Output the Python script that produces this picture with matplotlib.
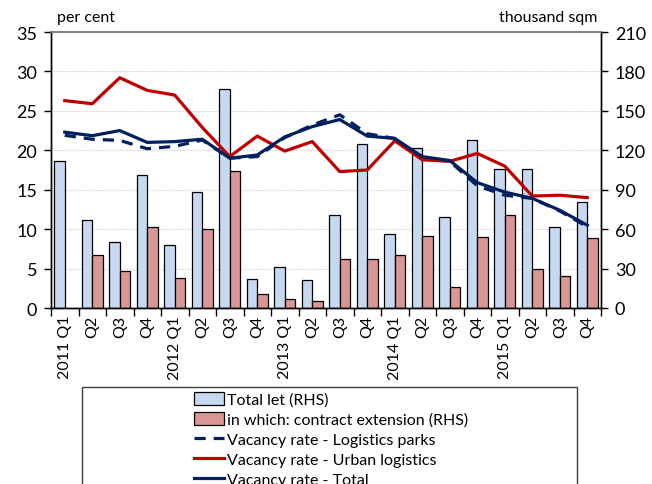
import numpy as np
import matplotlib
matplotlib.use("Agg")
import matplotlib.pyplot as plt
from matplotlib.patches import Rectangle, Patch
from matplotlib.lines import Line2D

plt.rcParams['font.family'] = ['Lato', 'DejaVu Sans']

quarters = ["2011 Q1", "Q2", "Q3", "Q4", "2012 Q1", "Q2", "Q3", "Q4",
            "2013 Q1", "Q2", "Q3", "Q4", "2014 Q1", "Q2", "Q3", "Q4",
            "2015 Q1", "Q2", "Q3", "Q4"]

# thousand sqm (RHS)
total_let = [112, 67, 50, 101, 48, 88, 167, 22, 31, 21,
             71, 125, 56, 122, 69, 128, 106, 106, 62, 81]
extension = [np.nan, 40, 28, 62, 23, 60, 104, 11, 7, 5,
             37, 37, 40, 55, 16, 54, 71, 30, 24, 53]

# per cent (LHS)
vac_parks = [21.9, 21.4, 21.25, 20.2, 20.5, 21.3, 19.0, 19.2, 21.6, 23.2,
             24.5, 22.1, 21.5, 19.0, 18.6, 15.5, 14.3, 13.9, 12.3, 10.3]
vac_urban = [26.3, 25.9, 29.2, 27.6, 27.0, 22.9, 19.2, 21.8, 19.9, 21.1,
             17.3, 17.5, 21.2, 18.8, 18.6, 19.6, 18.0, 14.2, 14.3, 14.0]
vac_total = [22.3, 21.85, 22.5, 21.0, 21.1, 21.4, 19.0, 19.4, 21.7, 23.0,
             23.9, 21.8, 21.5, 19.2, 18.7, 15.9, 14.7, 13.9, 12.4, 10.5]

blue_fill = "#C6D9F1"
red_fill = "#D99694"
red_line = "#C00000"
navy = "#002060"
dash = (0, (3.5, 2.5))

W, H = 652, 485
fig = plt.figure(figsize=(W / 100, H / 100), dpi=100)
ax = fig.add_axes([51 / W, 1 - 309 / H, 550 / W, 276 / H])  # bars, RHS
axl = ax.twinx()  # lines, LHS

x = np.arange(len(quarters))
bw = 0.375
ax.bar(x - bw / 2, total_let, bw, color=blue_fill, edgecolor="black", linewidth=0.9, zorder=2)
ax.bar(x + bw / 2, extension, bw, color=red_fill, edgecolor="black", linewidth=0.9, zorder=2)
ax.set_ylim(0, 210)
ax.set_yticks(np.arange(0, 211, 30))
ax.set_xlim(-0.5, len(quarters) - 0.5)
ax.yaxis.tick_right()
ax.grid(axis="y", color="#D0D0D0", linestyle=(0, (1, 1)), linewidth=0.8, zorder=0)
ax.set_axisbelow(True)

axl.plot(x, vac_parks, color=navy, lw=2.3, ls=dash)
axl.plot(x, vac_urban, color=red_line, lw=2.3)
axl.plot(x, vac_total, color=navy, lw=2.3)
axl.set_ylim(0, 35)
axl.set_yticks(np.arange(0, 36, 5))
axl.yaxis.tick_left()

ax.set_xticks(np.arange(-0.5, len(quarters), 1))
ax.set_xticklabels([])
ax.set_xticks(x, minor=True)
ax.set_xticklabels(quarters, minor=True, rotation=90, fontsize=11.5)
ax.tick_params(axis="x", which="major", length=6, width=1, direction="out")
ax.tick_params(axis="x", which="minor", length=0, pad=5)
ax.tick_params(axis="y", length=5, width=1, direction="out", labelsize=13, pad=5)
axl.tick_params(axis="y", length=5, width=1, direction="out", labelsize=13, pad=5)

for a in (ax, axl):
    a.spines["top"].set_color("#808080")
    a.spines["top"].set_linewidth(1.2)
    for s in ("left", "right", "bottom"):
        a.spines[s].set_color("black")
        a.spines[s].set_linewidth(1.0)

fig.text(57 / W, 1 - 18 / H, "per cent", fontsize=11.5, va="center", ha="left")
fig.text(597 / W, 1 - 18 / H, "thousand sqm", fontsize=11.5, va="center", ha="right")

handles = [
    Patch(facecolor=blue_fill, edgecolor="black", linewidth=0.9),
    Patch(facecolor=red_fill, edgecolor="black", linewidth=0.9),
    Line2D([], [], color=navy, lw=2.3, ls=dash),
    Line2D([], [], color=red_line, lw=2.3),
    Line2D([], [], color=navy, lw=2.3),
]
labels = ["Total let (RHS)", "in which: contract extension (RHS)",
          "Vacancy rate - Logistics parks", "Vacancy rate - Urban logistics",
          "Vacancy rate - Total"]
fig.legend(handles, labels, loc="upper center", bbox_to_anchor=(331 / W, 1 - 385 / H),
           frameon=False, fontsize=11.5, handlelength=1.9, handletextpad=0.15,
           labelspacing=0.3, borderpad=0.0, handleheight=0.9)
fig.patches.append(Rectangle((82 / W, -0.05), (577 - 82) / W, 0.05 + (485 - 388) / H,
                             transform=fig.transFigure, fill=False,
                             edgecolor="#404040", linewidth=1.0))

fig.savefig("out.png", dpi=100)
